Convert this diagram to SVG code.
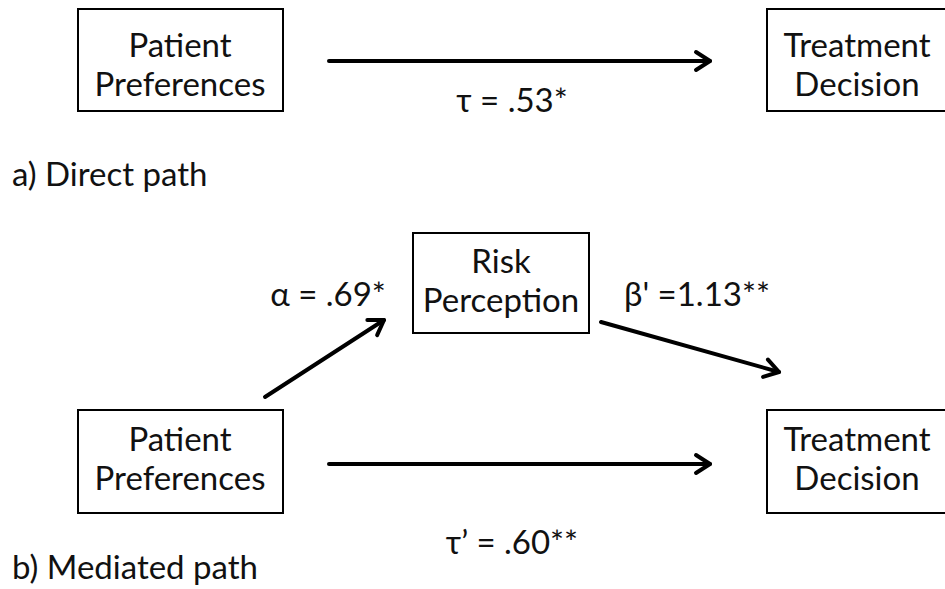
<svg xmlns="http://www.w3.org/2000/svg" width="945" height="589" viewBox="0 0 945 589">
<style>
.box{fill:#fff;stroke:#000;stroke-width:2}
.t{font-family:Lato,"Open Sans","Liberation Sans",sans-serif;font-size:33px;fill:#111;text-anchor:middle}
.l{font-family:Lato,"Open Sans","Liberation Sans",sans-serif;font-size:33px;fill:#111}
.c{stroke:#000;stroke-width:4;fill:none;stroke-linecap:round}
</style>
<defs>
<marker id="ah" markerUnits="userSpaceOnUse" markerWidth="30" markerHeight="30" refX="22" refY="12" orient="auto" viewBox="0 0 30 24">
<path d="M8,3 L22,12 L8,21" fill="none" stroke="#000" stroke-width="4" stroke-linecap="round" stroke-linejoin="round"/>
</marker>
</defs>
<rect width="945" height="589" fill="#fff"/>
<g id="connectors">
<line class="c" x1="329" y1="61" x2="710" y2="61" marker-end="url(#ah)"/>
<line class="c" x1="265" y1="397" x2="384" y2="320" marker-end="url(#ah)"/>
<line class="c" x1="601" y1="322" x2="779" y2="372" marker-end="url(#ah)"/>
<line class="c" x1="329" y1="464" x2="710" y2="464" marker-end="url(#ah)"/>
</g>
<g id="a-patient">
<rect class="box" x="78" y="9" width="205" height="102"/>
<text class="t" x="180" y="57">Patient</text>
<text class="t" x="180" y="96">Preferences</text>
</g>
<g id="a-treatment">
<rect class="box" x="767" y="9" width="190" height="102"/>
<text class="t" x="857" y="57">Treatment</text>
<text class="t" x="857" y="96">Decision</text>
</g>
<g id="b-risk">
<rect class="box" x="413" y="233" width="176" height="100"/>
<text class="t" x="501" y="273">Risk</text>
<text class="t" x="501" y="312">Perception</text>
</g>
<g id="b-patient">
<rect class="box" x="78" y="410" width="205" height="103"/>
<text class="t" x="180" y="451">Patient</text>
<text class="t" x="180" y="490">Preferences</text>
</g>
<g id="b-treatment">
<rect class="box" x="767" y="410" width="190" height="103"/>
<text class="t" x="857" y="451">Treatment</text>
<text class="t" x="857" y="490">Decision</text>
</g>
<g id="labels">
<text class="t" x="512" y="112">τ = .53*</text>
<text class="l" x="12" y="186">a) Direct path</text>
<text class="t" x="328" y="306">α = .69*</text>
<text class="t" x="697" y="306">β' =1.13**</text>
<text class="t" x="512" y="554">τ’ = .60**</text>
<text class="l" x="12" y="579">b) Mediated path</text>
</g>
</svg>
